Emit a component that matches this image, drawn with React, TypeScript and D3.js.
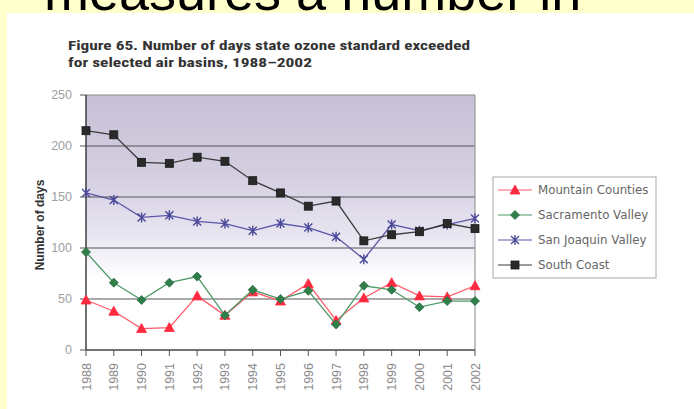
import React from "react";
import * as d3 from "d3";

const years = [1988, 1989, 1990, 1991, 1992, 1993, 1994, 1995, 1996, 1997, 1998, 1999, 2000, 2001, 2002];
const mountainCounties = [49, 38, 21, 22, 53, 34, 57, 48, 65, 29, 51, 66, 53, 52, 63];
const sacramentoValley = [96, 66, 49, 66, 72, 34, 59, 50, 58, 25, 63, 59, 42, 48, 48];
const sanJoaquinValley = [154, 147, 130, 132, 126, 124, 117, 124, 120, 111, 89, 123, 117, 123, 129];
const southCoast = [215, 211, 184, 183, 189, 185, 166, 154, 141, 146, 107, 113, 116, 124, 119];
const yTicks = [0, 50, 100, 150, 200, 250];
const seriesNames = ["Mountain Counties", "Sacramento Valley", "San Joaquin Valley", "South Coast"];

const W = 694;
const H = 409;
const plot = { left: 86, right: 475, top: 95, bottom: 350 };

const x = d3.scalePoint<number>().domain(years).range([plot.left, plot.right]);
const y = d3.scaleLinear().domain([0, 250]).range([plot.bottom, plot.top]);

type Series = { name: string; values: number[]; line: string; fill: string; stroke: string; marker: string };
const series: Series[] = [
  { name: seriesNames[0], values: mountainCounties, line: "#ff5a6a", fill: "#ff2a40", stroke: "#ff2a40", marker: "tri" },
  { name: seriesNames[1], values: sacramentoValley, line: "#4f9a68", fill: "#2f7f4a", stroke: "#2f6a44", marker: "dia" },
  { name: seriesNames[2], values: sanJoaquinValley, line: "#5a58a8", fill: "none", stroke: "#4a4898", marker: "star" },
  { name: seriesNames[3], values: southCoast, line: "#3a3a3a", fill: "#2a2a2a", stroke: "#1a1a1a", marker: "sq" },
];

function Marker({ kind, cx, cy, fill, stroke }: { kind: string; cx: number; cy: number; fill: string; stroke: string }) {
  if (kind === "tri") {
    return <path d={`M${cx},${cy - 5}L${cx + 5},${cy + 4}L${cx - 5},${cy + 4}Z`} fill={fill} stroke={stroke} strokeWidth={0.8} />;
  }
  if (kind === "dia") {
    return <path d={`M${cx},${cy - 4.5}L${cx + 4.5},${cy}L${cx},${cy + 4.5}L${cx - 4.5},${cy}Z`} fill={fill} stroke={stroke} strokeWidth={0.8} />;
  }
  if (kind === "star") {
    return (
      <path
        d={`M${cx - 4},${cy - 4}L${cx + 4},${cy + 4}M${cx - 4},${cy + 4}L${cx + 4},${cy - 4}M${cx},${cy - 5}L${cx},${cy + 5}`}
        fill="none"
        stroke={stroke}
        strokeWidth={1.4}
      />
    );
  }
  return <rect x={cx - 4} y={cy - 4} width={8} height={8} fill={fill} stroke={stroke} strokeWidth={0.8} />;
}

export default function App() {
  const lineGen = d3
    .line<number>()
    .x((_, i) => x(years[i]) as number)
    .y((d) => y(d));

  const legendX = 493;
  const legendY = 177;
  const legendRowY = (i: number) => legendY + 13 + i * 25;

  return (
    <svg width={W} height={H} style={{ position: "absolute", left: 0, top: 0 }}>
      <defs>
        <linearGradient id="bg" x1="0" y1="0" x2="0" y2="1">
          <stop offset="0%" stopColor="#c8c1d6" />
          <stop offset="30%" stopColor="#d3cde0" />
          <stop offset="55%" stopColor="#e8e5f1" />
          <stop offset="72%" stopColor="#ffffff" />
          <stop offset="100%" stopColor="#ffffff" />
        </linearGradient>
      </defs>
      <rect x={0} y={0} width={W} height={H} fill="#ffffcc" />
      <text x={44} y={10} fontFamily="Liberation Sans, Arial, sans-serif" fontSize={54} fill="#000">
        measures a number in
      </text>
      <rect x={7} y={13} width={W - 7} height={H - 13} fill="#ffffff" />

      <text
        x={68}
        y={50}
        fontFamily="Liberation Sans Narrow, Roboto Condensed, Liberation Sans, sans-serif"
        fontWeight="bold"
        fontSize={13.5}
        fill="#333"
        textLength={402}
        lengthAdjust="spacingAndGlyphs"
      >
        Figure 65. Number of days state ozone standard exceeded
      </text>
      <text
        x={68}
        y={67}
        fontFamily="Liberation Sans Narrow, Roboto Condensed, Liberation Sans, sans-serif"
        fontWeight="bold"
        fontSize={13.5}
        fill="#333"
        textLength={244}
        lengthAdjust="spacingAndGlyphs"
      >
        for selected air basins, 1988–2002
      </text>

      <rect x={plot.left} y={plot.top} width={plot.right - plot.left} height={plot.bottom - plot.top} fill="url(#bg)" />
      {yTicks.filter((t) => t > 0).map((t) => (
        <line key={t} x1={plot.left} x2={plot.right} y1={y(t)} y2={y(t)} stroke={t === 250 ? "#8a8a8a" : "#555"} strokeWidth={1.2} />
      ))}
      <line x1={plot.right} x2={plot.right} y1={plot.top} y2={plot.bottom} stroke="#999" strokeWidth={1.2} />
      <line x1={plot.left} x2={plot.left} y1={plot.top} y2={plot.bottom} stroke="#333" strokeWidth={1.4} />
      <line x1={plot.left} x2={plot.right} y1={plot.bottom} y2={plot.bottom} stroke="#444" strokeWidth={1.4} />

      {yTicks.map((t) => (
        <g key={t}>
          <line x1={plot.left - 6} x2={plot.left} y1={y(t)} y2={y(t)} stroke="#555" strokeWidth={1} />
          <text x={72} y={y(t) + 4} textAnchor="end" fontFamily="Liberation Sans, Arial, sans-serif" fontSize={12.5} fill="#a0a0a0">
            {t}
          </text>
        </g>
      ))}
      {years.map((yr) => {
        const px = x(yr) as number;
        return (
          <g key={yr}>
            <line x1={px} x2={px} y1={plot.bottom} y2={plot.bottom + 6} stroke="#555" strokeWidth={1} />
            <text
              transform={`translate(${px + 4.5},${363}) rotate(-90)`}
              textAnchor="end"
              fontFamily="Liberation Sans, Arial, sans-serif"
              fontSize={12.5}
              fill="#8a8a8a"
            >
              {yr}
            </text>
          </g>
        );
      })}
      <text
        transform={`translate(44,225) rotate(-90)`}
        textAnchor="middle"
        fontFamily="Liberation Sans, Arial, sans-serif"
        fontWeight="bold"
        fontSize={12}
        fill="#333"
      >
        Number of days
      </text>

      {series.map((s) => (
        <g key={s.name}>
          <path d={lineGen(s.values) as string} fill="none" stroke={s.line} strokeWidth={1.3} />
          {s.values.map((v, i) => (
            <Marker key={i} kind={s.marker} cx={x(years[i]) as number} cy={y(v)} fill={s.fill} stroke={s.stroke} />
          ))}
        </g>
      ))}

      <rect x={legendX} y={legendY} width={163} height={101} fill="#fff" stroke="#a8a8a8" strokeWidth={1} />
      {series.map((s, i) => {
        const ly = legendRowY(i);
        return (
          <g key={s.name}>
            <line x1={498} x2={532} y1={ly} y2={ly} stroke={s.line} strokeWidth={1.2} />
            <Marker kind={s.marker} cx={515} cy={ly} fill={s.fill} stroke={s.stroke} />
            <text x={538} y={ly + 4} fontFamily="DejaVu Sans, sans-serif" fontSize={11.8} fill="#666">
              {s.name}
            </text>
          </g>
        );
      })}
    </svg>
  );
}
